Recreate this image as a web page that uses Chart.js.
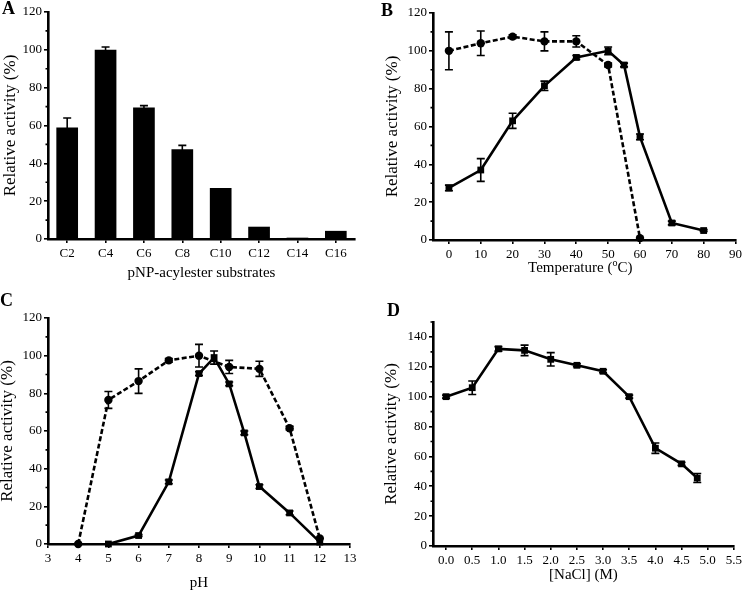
<!DOCTYPE html>
<html><head><meta charset="utf-8">
<script src="https://cdn.jsdelivr.net/npm/chart.js@4.4.1/dist/chart.umd.min.js"></script>
<style>
html,body{margin:0;padding:0;background:#fff;}
#wrap{position:relative;width:745px;height:590px;overflow:hidden;background:#fff;}
.panel{position:absolute;}
.lbl{position:absolute;font-family:"Liberation Serif",serif;font-weight:bold;font-size:18px;line-height:18px;color:#000;}
</style></head><body>
<div id="wrap">
  <div class="panel" style="left:0;top:0"><canvas id="cA" width="372" height="290"></canvas></div>
  <div class="panel" style="left:372px;top:0"><canvas id="cB" width="373" height="290"></canvas></div>
  <div class="panel" style="left:0;top:290px"><canvas id="cC" width="372" height="300"></canvas></div>
  <div class="panel" style="left:372px;top:290px"><canvas id="cD" width="373" height="300"></canvas></div>
  <div class="lbl" style="left:2px;top:-1px">A</div>
  <div class="lbl" style="left:381px;top:1px">B</div>
  <div class="lbl" style="left:0px;top:291px">C</div>
  <div class="lbl" style="left:387px;top:301px">D</div>
</div>
<script>
// ---------- Panel A: substrate specificity ----------
const subsCategories = ['C2','C4','C6','C8','C10','C12','C14','C16'];
const subsActivity   = [59, 100, 69.5, 47.5, 27, 6.5, 0.7, 4.3];
const subsError      = [5, 1.5, 1, 2, 0, 0, 0, 0];
const subsYTicks     = [0,20,40,60,80,100,120];
const subsYMinor     = [10,30,50,70,90,110];

// ---------- Panel B: temperature ----------
const tempX            = [0,10,20,30,40,50,55,60,70,80];
const tempActivity     = [27.5,37,63,81.5,96.5,100,92.5,54.5,9,5];
const tempActivityErr  = [1.5,6,4,2.5,1,2,1,1.5,1,0.5];
const tempStabX        = [0,10,20,30,40,50,60];
const tempStability    = [100,104,107.5,105,105,92.5,1];
const tempStabilityErr = [10,6.5,1,5,3,1,0];
const tempXTicks       = [0,10,20,30,40,50,60,70,80,90];
const tempYTicks       = [0,20,40,60,80,100,120];
const tempYMinor       = [10,30,50,70,90,110];

// ---------- Panel C: pH ----------
const phX            = [5,6,7,8,8.5,9,9.5,10,11,12];
const phActivity     = [0,4.5,33,90.5,99,85,59,30.5,16.5,1];
const phActivityErr  = [0,0.5,1,1,3.5,1,1,1,1,0];
const phStabX        = [4,5,6,7,8,9,10,11,12];
const phStability    = [0,76.5,86.5,97.5,100,94,93,61.5,3];
const phStabilityErr = [0,4.5,6.5,1,6,3.5,4,1,0];
const phXTicks       = [3,4,5,6,7,8,9,10,11,12,13];
const phYTicks       = [0,20,40,60,80,100,120];
const phYMinor       = [10,30,50,70,90,110];

// ---------- Panel D: NaCl ----------
const naclX           = [0,0.5,1,1.5,2,2.5,3,3.5,4,4.5,4.8];
const naclActivity    = [100,106,132,131,125,121,117,100,65.5,55,45.5];
const naclActivityErr = [1,4.5,1.5,3.5,4.5,1,1,1,3.5,1,3];
const naclXTicks      = [0,0.5,1,1.5,2,2.5,3,3.5,4,4.5,5,5.5];
const naclYTicks      = [0,20,40,60,80,100,120,140];
const naclYMinor      = [10,30,50,70,90,110,130,150];

const yTitle = 'Relative activity (%)';
const titleA = 'pNP-acylester substrates';
const titleBParts = ['Temperature (', 'o', 'C)'];
const titleC = 'pH';
const titleD = '[NaCl] (M)';

Chart.defaults.font.family = '"Liberation Serif", "Times New Roman", serif';
Chart.defaults.color = '#000';
Chart.defaults.animation = false;

const errorBars = {
  id: 'errorBars',
  afterDatasetsDraw(chart) {
    const ctx = chart.ctx, ys = chart.scales.y;
    chart.data.datasets.forEach((ds, i) => {
      if (!ds.errors) return;
      const meta = chart.getDatasetMeta(i);
      ctx.save();
      ctx.strokeStyle = '#000'; ctx.lineWidth = 1.6;
      meta.data.forEach((el, j) => {
        const e = ds.errors[j]; if (!e) return;
        const v = ds.data[j]; const val = (typeof v === 'object') ? v.y : v;
        const x = el.x;
        const yt = ys.getPixelForValue(val + e), yb = ys.getPixelForValue(val - e);
        ctx.beginPath();
        ctx.moveTo(x, yt); ctx.lineTo(x, yb);
        ctx.moveTo(x - 4, yt); ctx.lineTo(x + 4, yt);
        ctx.moveTo(x - 4, yb); ctx.lineTo(x + 4, yb);
        ctx.stroke();
      });
      ctx.restore();
    });
  }
};

const minorTicks = {
  id: 'minorTicks',
  afterDraw(chart, args, opts) {
    const ys = chart.scales.y, ctx = chart.ctx;
    if (!opts || !opts.values) return;
    ctx.save();
    ctx.strokeStyle = '#000'; ctx.lineWidth = 1.6;
    ctx.beginPath();
    opts.values.forEach(v => {
      const p = ys.getPixelForValue(v);
      ctx.moveTo(ys.right, p); ctx.lineTo(ys.right - 2.5, p);
    });
    ctx.stroke();
    ctx.restore();
  }
};

const supTitle = {
  id: 'supTitle',
  afterDraw(chart, args, opts) {
    if (!opts || !opts.parts) return;
    const ctx = chart.ctx, xs = chart.scales.x;
    const fam = Chart.defaults.font.family;
    ctx.save();
    ctx.fillStyle = '#000';
    ctx.textBaseline = 'alphabetic';
    const big = '15px ' + fam, small = '10px ' + fam;
    ctx.font = big; const w0 = ctx.measureText(opts.parts[0]).width, w2 = ctx.measureText(opts.parts[2]).width;
    ctx.font = small; const w1 = ctx.measureText(opts.parts[1]).width;
    const total = w0 + w1 + w2;
    let x = (xs.left + xs.right) / 2 - total / 2 - 4;
    const base = opts.y;
    ctx.font = big; ctx.fillText(opts.parts[0], x, base); x += w0;
    ctx.font = small; ctx.fillText(opts.parts[1], x, base - 6); x += w1;
    ctx.font = big; ctx.fillText(opts.parts[2], x, base);
    ctx.restore();
  }
};

function yAxis(min, max, ticks, width, titlePad) {
  return {
    type: 'linear', min, max,
    afterBuildTicks: s => { s.ticks = ticks.map(v => ({ value: v })); },
    afterFit: s => { s.width = width; },
    grid: { display: true, drawOnChartArea: false, drawTicks: true, tickLength: 4, color: '#000', lineWidth: 1.6 },
    border: { display: true, color: '#000', width: 2.6 },
    ticks: { font: { size: 13 }, padding: 2, color: '#000' },
    title: { display: true, text: yTitle, font: { size: 17 }, color: '#000', padding: { top: titlePad, bottom: 0 } }
  };
}
function xLinear(min, max, ticks, height, title, titlePad, fmt) {
  return {
    type: 'linear', min, max,
    afterBuildTicks: s => { s.ticks = ticks.map(v => ({ value: v })); },
    afterFit: s => { s.height = height; },
    grid: { display: true, drawOnChartArea: false, drawTicks: true, tickLength: 4, color: '#000', lineWidth: 1.6 },
    border: { display: true, color: '#000', width: 2.6 },
    ticks: { font: { size: 13 }, padding: 3, color: '#000', maxRotation: 0, autoSkip: false,
             callback: v => fmt ? fmt(v) : String(v) },
    title: { display: !!title, text: title || '', font: { size: 15 }, color: '#000', padding: { top: 0, bottom: titlePad } }
  };
}
function solidDs(xs, ys, errs) {
  return { data: xs.map((x, i) => ({ x, y: ys[i] })), errors: errs, borderColor: '#000', borderWidth: 2.6,
           pointStyle: 'rect', pointRadius: 4.8, pointBackgroundColor: '#000', pointBorderColor: '#000',
           pointBorderWidth: 0, tension: 0, clip: false, order: 1 };
}
function dashDs(xs, ys, errs) {
  return { data: xs.map((x, i) => ({ x, y: ys[i] })), errors: errs, borderColor: '#000', borderWidth: 2.6,
           borderDash: [5, 2.5], pointStyle: 'circle', pointRadius: 4.2, pointBackgroundColor: '#000',
           pointBorderColor: '#000', pointBorderWidth: 0, tension: 0, clip: false, order: 2 };
}
const basePlugins = { legend: { display: false }, tooltip: { enabled: false } };

// Panel A
new Chart(document.getElementById('cA'), {
  type: 'bar',
  data: { labels: subsCategories, datasets: [{ data: subsActivity, errors: subsError, backgroundColor: '#000',
          borderWidth: 0, barPercentage: 0.565, categoryPercentage: 1 }] },
  options: {
    responsive: false, layout: { padding: { left: 0, right: 17, top: 12, bottom: 0 } },
    plugins: { ...basePlugins, minorTicks: { values: subsYMinor } },
    scales: {
      x: { type: 'category', offset: true,
           afterFit: s => { s.height = 51; },
           grid: { display: true, offset: false, drawOnChartArea: false, drawTicks: true, tickLength: 4, color: '#000', lineWidth: 1.6 },
           border: { display: true, color: '#000', width: 2.6 },
           ticks: { font: { size: 13 }, padding: 3, color: '#000', maxRotation: 0, autoSkip: false },
           title: { display: true, text: titleA, font: { size: 15 }, color: '#000', padding: { top: 0, bottom: 8 } } },
      y: yAxis(0, 120, subsYTicks, 48, 0)
    }
  },
  plugins: [errorBars, minorTicks]
});

// Panel B
new Chart(document.getElementById('cB'), {
  type: 'line',
  data: { datasets: [ solidDs(tempX, tempActivity, tempActivityErr), dashDs(tempStabX, tempStability, tempStabilityErr) ] },
  options: {
    responsive: false, layout: { padding: { left: 0, right: 5, top: 13, bottom: 0 } },
    plugins: { ...basePlugins, minorTicks: { values: tempYMinor }, supTitle: { parts: titleBParts, y: 272 } },
    scales: { x: xLinear(-5, 90, tempXTicks, 50, null, 0), y: yAxis(0, 120, tempYTicks, 61, 10.3) }
  },
  plugins: [errorBars, minorTicks, supTitle]
});

// Panel C
new Chart(document.getElementById('cC'), {
  type: 'line',
  data: { datasets: [ solidDs(phX, phActivity, phActivityErr), dashDs(phStabX, phStability, phStabilityErr) ] },
  options: {
    responsive: false, layout: { padding: { left: 0, right: 22, top: 28, bottom: 0 } },
    plugins: { ...basePlugins, minorTicks: { values: phYMinor } },
    scales: { x: xLinear(3, 13, phXTicks, 46, titleC, -2), y: yAxis(0, 120, phYTicks, 48, -3) }
  },
  plugins: [errorBars, minorTicks]
});

// Panel D
new Chart(document.getElementById('cD'), {
  type: 'line',
  data: { datasets: [ solidDs(naclX, naclActivity, naclActivityErr) ] },
  options: {
    responsive: false, layout: { padding: { left: 0, right: 7, top: 32, bottom: 0 } },
    plugins: { ...basePlugins, minorTicks: { values: naclYMinor } },
    scales: { x: xLinear(-0.25, 5.5, naclXTicks, 44, titleD, 6, v => Number(v).toFixed(1)), y: yAxis(0, 150, naclYTicks, 61, 9.3) }
  },
  plugins: [errorBars, minorTicks]
});
</script>
</body></html>
